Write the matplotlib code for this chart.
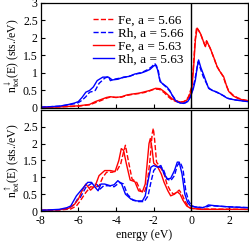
#!/usr/bin/env python3
import matplotlib
matplotlib.use("Agg")
import matplotlib.pyplot as plt

plt.rcParams['font.family'] = ['Liberation Serif', 'DejaVu Serif']
plt.rcParams['mathtext.fontset'] = 'stix'

# ---- spin down (top panel) ----
dn_rh63_e = [-8, -7, -6.5, -6.2, -6.0, -5.8, -5.6, -5.4, -5.2, -5.0, -4.7, -4.4, -4.2, -3.9, -3.6, -3.3,
             -3.0, -2.7, -2.4, -2.2, -2.0, -1.9, -1.8, -1.72, -1.66, -1.5, -1.3, -1.15, -1.03, -0.9, -0.77,
             -0.6, -0.41, -0.2, -0.06, 0.1, 0.21, 0.3, 0.38, 0.5, 0.65, 0.8, 0.91, 1.1, 1.36, 1.6, 1.89,
             2.2, 2.43, 2.7, 3.0]
dn_rh63_v = [0.02, 0.05, 0.1, 0.14, 0.18, 0.3, 0.45, 0.5, 0.6, 0.78, 0.88, 0.88, 0.8, 0.82, 0.88, 0.9,
             0.97, 0.99, 1.05, 1.1, 1.2, 1.22, 1.1, 0.9, 0.75, 0.68, 0.6, 0.5, 0.37, 0.25, 0.18,
             0.14, 0.13, 0.18, 0.3, 0.55, 0.8, 1.15, 1.37, 1.15, 0.94, 0.72, 0.56, 0.5, 0.45, 0.38, 0.28,
             0.24, 0.22, 0.2, 0.18]

dn_rh66_e = [-8, -7, -6.5, -6.2, -6.0, -5.8, -5.6, -5.4, -5.25, -5.1, -4.9, -4.6, -4.4, -4.3, -4.1, -3.8,
             -3.5, -3.2, -2.9, -2.6, -2.3, -2.1, -1.95, -1.85, -1.75, -1.68, -1.55, -1.35, -1.15, -1.0,
             -0.85, -0.7, -0.5, -0.3, -0.12, 0.05, 0.18, 0.28, 0.36, 0.48, 0.62, 0.8, 0.95, 1.15, 1.4,
             1.7, 1.95, 2.3, 2.6, 3.0]
dn_rh66_v = [0.02, 0.05, 0.09, 0.12, 0.15, 0.22, 0.32, 0.45, 0.47, 0.5, 0.7, 0.85, 0.9, 0.78, 0.82, 0.85,
             0.88, 0.92, 0.98, 1.02, 1.1, 1.18, 1.27, 1.2, 1.05, 0.8, 0.7, 0.6, 0.48, 0.35,
             0.24, 0.17, 0.13, 0.15, 0.26, 0.5, 0.8, 1.1, 1.32, 1.12, 0.9, 0.7, 0.55, 0.5, 0.43,
             0.35, 0.27, 0.23, 0.21, 0.19]

dn_fe63_e = [-8, -7, -6, -5.7, -5.4, -5.1, -4.85, -4.5, -4.3, -4.0, -3.7, -3.43, -3.1, -2.8, -2.56, -2.2,
             -1.9, -1.66, -1.4, -1.2, -1.0, -0.8, -0.59, -0.4, -0.23, -0.1, 0.03, 0.12, 0.21, 0.3, 0.4,
             0.5, 0.6, 0.74, 0.82, 0.91, 1.0, 1.1, 1.25, 1.36, 1.5, 1.71, 1.85, 1.98, 2.2, 2.43, 2.7, 3.0]
dn_fe63_v = [0.01, 0.03, 0.06, 0.08, 0.1, 0.18, 0.23, 0.3, 0.32, 0.3, 0.32, 0.37, 0.4, 0.42, 0.45, 0.5,
             0.56, 0.55, 0.45, 0.35, 0.25, 0.2, 0.17, 0.18, 0.23, 0.35, 0.6, 1.2, 1.94, 2.28, 2.2,
             2.1, 1.95, 1.75, 1.9, 1.8, 1.7, 1.56, 1.35, 1.18, 1.05, 0.89, 0.65, 0.47, 0.35, 0.28, 0.23, 0.2]

dn_fe66_e = [-8, -7, -6, -5.7, -5.4, -5.1, -4.8, -4.5, -4.3, -4.0, -3.7, -3.4, -3.1, -2.8, -2.5, -2.2,
             -1.95, -1.7, -1.45, -1.25, -1.05, -0.85, -0.65, -0.45, -0.28, -0.15, 0.0, 0.1, 0.19, 0.27, 0.37,
             0.48, 0.58, 0.72, 0.8, 0.88, 0.98, 1.08, 1.22, 1.34, 1.48, 1.68, 1.82, 1.96, 2.2, 2.45, 2.7, 3.0]
dn_fe66_v = [0.01, 0.03, 0.05, 0.07, 0.09, 0.15, 0.21, 0.28, 0.31, 0.3, 0.31, 0.36, 0.39, 0.41, 0.44, 0.49,
             0.54, 0.53, 0.44, 0.33, 0.24, 0.19, 0.16, 0.17, 0.22, 0.33, 0.58, 1.15, 1.9, 2.3, 2.22,
             2.12, 1.97, 1.78, 1.92, 1.82, 1.72, 1.58, 1.38, 1.2, 1.07, 0.9, 0.68, 0.5, 0.37, 0.29, 0.24, 0.21]

# ---- spin up (bottom panel) ----
up_rh63_e = [-8, -7, -6.6, -6.4, -6.1, -5.8, -5.5, -5.3, -5.1, -4.95, -4.8, -4.6, -4.3, -4.1, -3.9, -3.7,
             -3.5, -3.2, -2.9, -2.6, -2.45, -2.3, -2.15, -2.0, -1.8, -1.62, -1.45, -1.27, -1.1, -0.9,
             -0.75, -0.65, -0.5, -0.35, -0.2, -0.05, 0.2, 0.6, 0.75, 0.9, 1.2, 1.8, 2.5, 3.0]
up_rh63_v = [0.02, 0.05, 0.1, 0.15, 0.45, 0.65, 0.85, 0.85, 0.7, 0.6, 0.8, 0.8, 0.75, 0.78, 0.9, 0.8,
             0.5, 0.35, 0.3, 0.3, 0.45, 0.9, 1.3, 1.35, 1.3, 1.35, 1.1, 0.95, 0.97, 1.2,
             1.45, 1.45, 1.1, 0.5, 0.25, 0.15, 0.12, 0.1, 0.13, 0.18, 0.16, 0.13, 0.11, 0.1]

up_rh66_e = [-8, -7, -6.5, -6.2, -6.05, -5.9, -5.6, -5.3, -5.0, -4.85, -4.65, -4.4, -4.1, -3.8, -3.6, -3.4,
             -3.1, -2.8, -2.5, -2.3, -2.15, -2.0, -1.85, -1.65, -1.5, -1.3, -1.1, -0.9, -0.75, -0.6,
             -0.45, -0.3, -0.15, 0.0, 0.2, 0.6, 0.8, 1.0, 1.5, 2.2, 3.0]
up_rh66_v = [0.02, 0.04, 0.08, 0.2, 0.35, 0.4, 0.7, 0.82, 0.78, 0.65, 0.75, 0.75, 0.72, 0.85, 0.8, 0.5,
             0.32, 0.28, 0.28, 0.45, 0.85, 1.2, 1.3, 1.3, 1.25, 0.95, 0.9, 1.05, 1.35, 1.45,
             1.25, 0.6, 0.3, 0.16, 0.12, 0.1, 0.12, 0.16, 0.14, 0.12, 0.1]

up_fe63_e = [-8, -7, -6.5, -6.2, -6.0, -5.8, -5.6, -5.35, -5.1, -4.9, -4.6, -4.3, -4.05, -3.85, -3.72, -3.6,
             -3.45, -3.25, -3.0, -2.8, -2.6, -2.45, -2.35, -2.25, -2.18, -2.1, -2.0, -1.8, -1.6, -1.45,
             -1.25, -1.1, -0.9, -0.75, -0.6, -0.45, -0.25, -0.05, 0.5, 1.5, 3.0]
up_fe63_v = [0.02, 0.04, 0.08, 0.2, 0.35, 0.6, 0.8, 0.62, 0.75, 1.05, 1.2, 1.2, 1.17, 1.5, 1.85, 1.8,
             1.4, 0.92, 0.87, 0.6, 0.57, 0.8, 1.4, 2.0, 2.15, 1.9, 1.42, 1.32, 1.1, 0.85,
             0.6, 0.45, 0.5, 0.57, 0.5, 0.32, 0.15, 0.08, 0.05, 0.05, 0.05]

up_fe66_e = [-8, -7, -6.4, -6.1, -5.9, -5.6, -5.35, -5.1, -4.9, -4.7, -4.5, -4.2, -3.95, -3.75, -3.6, -3.5,
             -3.35, -3.15, -2.9, -2.7, -2.5, -2.35, -2.2, -2.08, -2.02, -1.95, -1.85, -1.65, -1.45, -1.3,
             -1.1, -0.95, -0.8, -0.65, -0.5, -0.35, -0.15, 0.0, 0.5, 3.0]
up_fe66_v = [0.02, 0.03, 0.06, 0.15, 0.3, 0.55, 0.72, 0.7, 0.75, 1.0, 1.15, 1.15, 1.2, 1.4, 1.75, 1.95,
             1.5, 0.95, 0.85, 0.6, 0.55, 0.8, 1.5, 2.3, 2.45, 2.1, 1.45, 1.3, 1.1, 0.8,
             0.58, 0.5, 0.55, 0.62, 0.5, 0.3, 0.12, 0.08, 0.06, 0.05]

fig = plt.figure(figsize=(2.49, 2.42), dpi=100)
ax1 = fig.add_axes([0.163, 0.554, 0.833, 0.434])
ax2 = fig.add_axes([0.163, 0.128, 0.833, 0.418])

lw = 1.0
ax1.plot(dn_fe66_e, dn_fe66_v, color='red', ls='--', lw=lw, label='Fe, a = 5.66')
ax1.plot(dn_rh66_e, dn_rh66_v, color='blue', ls='--', lw=lw, label='Rh, a = 5.66')
ax1.plot(dn_fe63_e, dn_fe63_v, color='red', ls='-', lw=lw, label='Fe, a = 5.63')
ax1.plot(dn_rh63_e, dn_rh63_v, color='blue', ls='-', lw=lw, label='Rh, a = 5.63')

ax2.plot(up_fe66_e, up_fe66_v, color='red', ls='--', lw=lw)
ax2.plot(up_rh66_e, up_rh66_v, color='blue', ls='--', lw=lw)
ax2.plot(up_fe63_e, up_fe63_v, color='red', ls='-', lw=lw)
ax2.plot(up_rh63_e, up_rh63_v, color='blue', ls='-', lw=lw)

for ax in (ax1, ax2):
    ax.axvline(0, color='black', lw=1.0)
    ax.set_xlim(-8, 3)
    ax.set_ylim(0, 3)
    ax.set_xticks([-8, -6, -4, -2, 0, 2])
    ax.tick_params(direction='in', length=3, width=0.8, labelsize=8.5, pad=2,
                   right=True, top=False)
    for s in ax.spines.values():
        s.set_linewidth(0.9)

ax1.set_yticks([0, 0.5, 1, 1.5, 2, 2.5, 3])
ax1.set_yticklabels(['0', '0.5', '1', '1.5', '2', '2.5', '3'])
ax1.tick_params(labelbottom=False)
ax2.set_yticks([0, 0.5, 1, 1.5, 2, 2.5])
ax2.set_yticklabels(['0', '0.5', '1', '1.5', '2', '2.5'])
ax2.set_xticklabels(['-8', '-6', '-4', '-2', '0', '2'])
ax2.tick_params(axis='x', pad=3)

ax1.set_ylabel(r'n$^{\downarrow}_{\rm tot}$(E) (sts./eV)', fontsize=8.5, labelpad=1)
ax2.set_ylabel(r'n$^{\uparrow}_{\rm tot}$(E) (sts./eV)', fontsize=8.5, labelpad=1)
ax2.set_xlabel('energy (eV)', fontsize=8.5, labelpad=1)

ax1.legend(loc='upper left', bbox_to_anchor=(0.2, 0.99), frameon=False, fontsize=9.5,
           handlelength=1.6, handletextpad=0.3, labelspacing=0.05, borderpad=0.3)

fig.savefig('out.png', dpi=100)
